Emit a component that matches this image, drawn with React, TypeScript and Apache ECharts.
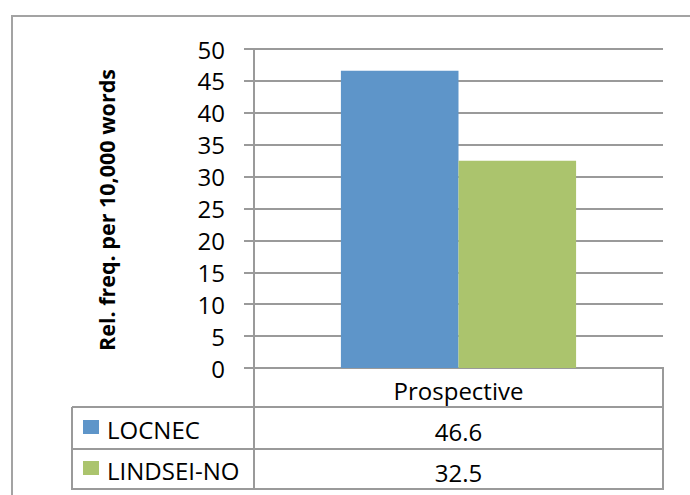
import React, { useEffect, useRef } from "react";
import * as echarts from "echarts";

const categories = ["Prospective"];
const seriesNames = ["LOCNEC", "LINDSEI-NO"];
const locnecValues = [46.6];
const lindseiValues = [32.5];
const seriesValues = [locnecValues, lindseiValues];
const seriesColors = ["#5e95c9", "#abc46d"];
const yAxisTitle = "Rel. freq. per 10,000 words";
const yMin = 0;
const yMax = 50;
const yInterval = 5;

const FONT = "'Open Sans', 'Noto Sans', sans-serif";
const LINE = "#9a9a9a";
const FS = 24;

export default function App() {
  const ref = useRef<HTMLDivElement>(null);

  useEffect(() => {
    if (!ref.current) return;
    const chart = echarts.init(ref.current, null, { renderer: "svg" });

    const gridLeft = 254;
    const gridRight = 663;
    const gridTop = 49;
    const gridBottom = 368;
    const tableLeft = 72;
    const rowLines = [407, 449, 489];
    const midX = (gridLeft + gridRight) / 2;

    const graphics: any[] = [];
    graphics.push({
      type: "rect",
      z: -10,
      shape: { x: 12, y: 16, width: 720, height: 520 },
      style: { fill: "none", stroke: "#a3a3a3", lineWidth: 2 },
    });
    const hl = (y: number, x1: number, x2: number) => ({
      type: "line",
      shape: { x1, y1: y, x2, y2: y },
      style: { stroke: LINE, lineWidth: 2 },
    });
    const vl = (x: number, y1: number, y2: number) => ({
      type: "line",
      shape: { x1: x, y1, x2: x, y2 },
      style: { stroke: LINE, lineWidth: 2 },
    });
    rowLines.forEach((y) => graphics.push(hl(y, tableLeft, gridRight + 1)));
    graphics.push(vl(tableLeft, rowLines[0], rowLines[2] + 1));
    graphics.push(vl(gridLeft, gridBottom, rowLines[2] + 1));
    graphics.push(vl(gridRight, gridBottom - 1, rowLines[2] + 1));

    const rowCenters = [428, 469];
    seriesNames.forEach((name, i) => {
      const cy = rowCenters[i];
      graphics.push({
        type: "rect",
        shape: { x: 83, y: cy - 8, width: 16, height: 14 },
        style: { fill: seriesColors[i] },
      });
      graphics.push({
        type: "text",
        x: 107,
        y: cy + 1,
        style: {
          text: name,
          font: `${FS}px ${FONT}`,
          fill: "#000",
          align: "left",
          verticalAlign: "middle",
        },
      });
      categories.forEach((_, ci) => {
        graphics.push({
          type: "text",
          x: midX,
          y: cy + 3,
          style: {
            text: String(seriesValues[i][ci]),
            font: `${FS}px ${FONT}`,
            fill: "#000",
            align: "center",
            verticalAlign: "middle",
          },
        });
      });
    });

    graphics.push({
      type: "text",
      x: 106,
      y: 210,
      rotation: Math.PI / 2,
      style: {
        text: yAxisTitle,
        font: `bold 21.5px ${FONT}`,
        fill: "#000",
        align: "center",
        verticalAlign: "middle",
      },
    });

    chart.setOption({
      animation: false,
      backgroundColor: "#fff",
      grid: {
        left: gridLeft,
        top: gridTop,
        width: gridRight - gridLeft,
        height: gridBottom - gridTop,
        containLabel: false,
      },
      xAxis: {
        type: "category",
        data: categories,
        axisLine: { show: true, lineStyle: { color: LINE, width: 2 } },
        axisTick: { show: false },
        axisLabel: {
          color: "#000",
          fontFamily: FONT,
          fontSize: FS,
          margin: 22,
          verticalAlign: "middle",
          lineHeight: FS,
        },
      },
      yAxis: {
        type: "value",
        min: yMin,
        max: yMax,
        interval: yInterval,
        axisLine: { show: true, lineStyle: { color: LINE, width: 2 } },
        axisTick: { show: true, length: 10, lineStyle: { color: LINE, width: 2 } },
        axisLabel: {
          color: "#000",
          fontFamily: FONT,
          fontSize: FS,
          margin: 29,
          padding: [5, 0, 0, 0],
        },
        splitLine: { show: true, lineStyle: { color: LINE, width: 2 } },
      },
      series: seriesNames.map((name, i) => ({
        name,
        type: "bar",
        data: seriesValues[i],
        barGap: "0%",
        barCategoryGap: "42.5%",
        itemStyle: { color: seriesColors[i] },
      })),
      graphic: graphics,
    });

    return () => chart.dispose();
  }, []);

  return (
    <div
      ref={ref}
      style={{ position: "fixed", left: 0, top: 0, width: 690, height: 495, background: "#fff" }}
    />
  );
}
